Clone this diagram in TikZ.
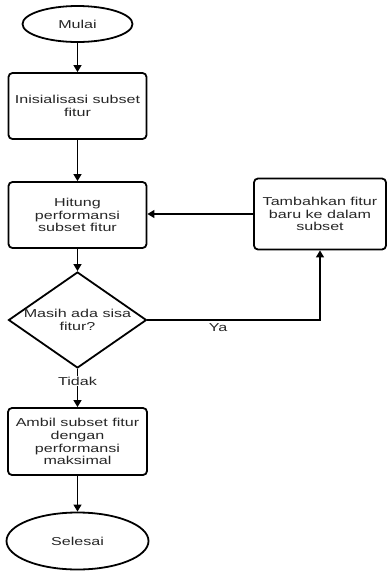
\documentclass[tikz,border=0pt]{standalone}
\usepackage{fontspec}
\setmainfont[FakeStretch=1.4]{Liberation Sans}
\usetikzlibrary{shapes.geometric,arrows.meta}
\begin{document}
\begin{tikzpicture}[x=1pt,y=-1pt,
  txt/.style={font=\fontsize{11.5}{12.8}\selectfont, text=black!85},
  box/.style={draw, line width=1.8pt, rounded corners=4pt, align=center, inner sep=0pt, txt},
  term/.style={draw, ellipse, line width=1.8pt, inner sep=0pt, txt},
  arr/.style={line width=1.3pt, -{Triangle[length=7pt,width=8pt]}}]
\useasboundingbox (0,0) rectangle (388,571);
\node[term, minimum width=110pt, minimum height=36pt] (start) at (77.5,24) {Mulai};
\node[box, minimum width=138pt, minimum height=66pt] (init) at (77.5,106) {Inisialisasi subset\\fitur};
\node[box, minimum width=138pt, minimum height=66pt] (hitung) at (77.5,215) {Hitung\\performansi\\subset fitur};
\node[draw, diamond, line width=1.8pt, inner sep=0pt, minimum width=138pt, minimum height=96pt] (dec) at (77.5,320) {};
\node[txt, align=center] (dectext) at (77.5,320) {Masih ada sisa\\fitur?};
\node[box, minimum width=132pt, minimum height=71pt] (tambah) at (320,214) {Tambahkan fitur\\baru ke dalam\\subset};
\node[box, minimum width=139pt, minimum height=67pt] (ambil) at (77.5,441.5) {Ambil subset fitur\\dengan\\performansi\\maksimal};
\node[term, minimum width=142pt, minimum height=57pt] (end) at (77.5,541) {Selesai};
\draw[arr] (start.south) -- (init.north);
\draw[arr] (init.south) -- (hitung.north);
\draw[arr] (hitung.south) -- (dec.north);
\draw[arr] (dec.east) -| (tambah.south);
\node[txt] (ya) at (218,328) {Ya};
\draw[arr] (tambah.west) -- (tambah.west -| hitung.east);
\draw[arr] (dec.south) -- (ambil.north);
\node[txt, fill=white, inner sep=1pt] (tidak) at (77.5,381) {Tidak};
\draw[arr] (ambil.south) -- (end.north);
\end{tikzpicture}
\end{document}
